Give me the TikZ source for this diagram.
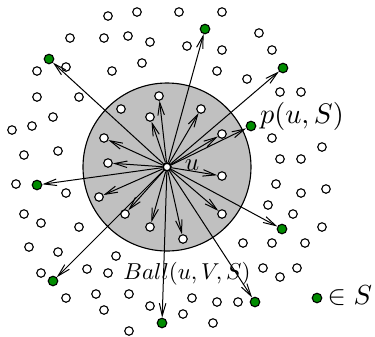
\documentclass[tikz,border=0pt]{standalone}
\usepackage{amsmath,amssymb}
\usepackage{xcolor}
\usepackage{tikz}
\usetikzlibrary{arrows.meta,positioning,backgrounds}
\definecolor{ink}{HTML}{000000}
\definecolor{ballgray}{HTML}{C0C0C0}
\definecolor{sgreen}{HTML}{008C00}
\tikzset{
  >={Straight Barb[length=5pt,width=2.6pt]},
  pt/.style={circle, draw=ink, fill=white, line width=.45pt, minimum size=3.4pt, inner sep=0pt},
  spt/.style={pt, fill=sgreen, minimum size=3.8pt},
  src/.style={pt, line width=.7pt, minimum size=3.2pt},
  ballstyle/.style={circle, draw=ink, fill=ballgray, line width=.45pt, inner sep=0pt},
  ray/.style={->, line width=.4pt, color=ink}
}

\begin{document}
\begin{tikzpicture}[x=0.4pt,y=-0.4pt]
  \useasboundingbox (0,0) rectangle (375,336);
  % source and its ball
  \node[src] (u) at (167,167) {};
  \begin{scope}[on background layer]
    \node[ballstyle,minimum size=67.2pt] (ball) at (u) {};
  \end{scope}
  % other vertices
  \foreach \p [count=\k] in {(108,16),(137,12),(179,12),(222,12),(70,38),(104,38),(128,36),
      (150,42),(187,46),(259,33),(222,50),(272,50),(37,71),(66,67),(112,71),(142,63),(217,71),
      (247,79),(37,97),(79,97),(280,92),(301,92),(53,117),(32,126),(12,130),(121,109),(24,155),
      (58,151),(272,138),(322,147),(280,159),(301,159),(16,184),(66,193),(276,184),(301,193),
      (326,189),(24,214),(41,223),(79,227),(268,205),(293,214),(322,227),(29,247),(58,252),
      (116,256),(243,243),(272,243),(305,243),(41,273),(87,269),(108,273),(263,268),(280,277),
      (297,268),(66,298),(96,294),(129,294),(192,298),(217,302),(238,302),(104,310),(150,306),
      (183,314),(129,331),(213,323)}
    \node[pt] (w\k) at \p {};
  % vertices inside the ball
  \node[pt] (in1) at (159,96) {};
  \node[pt] (in2) at (150,117) {};
  \node[pt] (in3) at (201,109) {};
  \node[pt] (in4) at (222,134) {};
  \node[pt] (in5) at (104,138) {};
  \node[pt] (in6) at (108,163) {};
  \node[pt] (in7) at (222,176) {};
  \node[pt] (in8) at (99,197) {};
  \node[pt] (in9) at (222,214) {};
  \node[pt] (in10) at (125,214) {};
  \node[pt] (in11) at (150,227) {};
  \node[pt] (in12) at (183,239) {};
  % vertices of S
  \node[spt] (s1) at (49,59) {};
  \node[spt] (s2) at (205,29) {};
  \node[spt] (s3) at (283,68) {};
  \node[spt] (p) at (251,126) {};
  \node[spt] (s5) at (37,185) {};
  \node[spt] (s6) at (282,229) {};
  \node[spt] (s7) at (53,281) {};
  \node[spt] (s8) at (162,323) {};
  \node[spt] (s9) at (255,302) {};
  \foreach \t in {in1,in2,in3,in4,in5,in6,in7,in8,in9,in10,in11,in12,s1,s2,s3,p,s5,s6,s7,s8,s9}
    \draw[ray] (u) -- (\t);
  % labels
  \node (ulabel) at (192,165) {$u$};
  \node[scale=1.13] (plabel) at (302,116) {$p(u,S)$};
  \node[scale=0.92] (balllabel) at (187,274) {$Ball(u,V,S)$};
  \node[spt] (key) at (317,298) {};
  \node[anchor=west,inner sep=0pt,scale=1.1] (keylabel) at (327,296) {$\in S$};
\end{tikzpicture}
\end{document}
